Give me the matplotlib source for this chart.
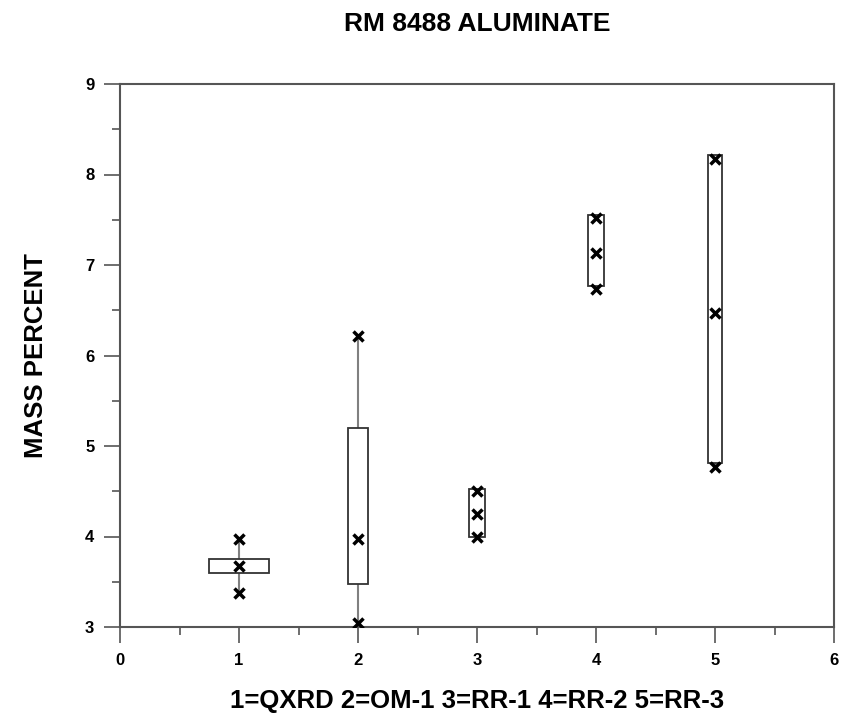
import matplotlib
matplotlib.use("Agg")
import matplotlib.pyplot as plt

plt.rcParams['font.family'] = ['Liberation Sans', 'DejaVu Sans']
plt.rcParams['font.weight'] = 'bold'

# box statistics per method
groups = [1, 2, 3, 4, 5]
q1 = [3.60, 3.47, 4.00, 6.77, 4.81]
q3 = [3.75, 5.20, 4.53, 7.55, 8.21]
lo = [3.38, 3.04, 3.99, 6.74, 4.76]
hi = [3.97, 6.22, 4.50, 7.52, 8.17]
box_w = [0.50, 0.17, 0.13, 0.13, 0.12]

# individual values shown with x
pt_x = [1, 1, 1, 2, 2, 2, 3, 3, 3, 4, 4, 4, 5, 5, 5]
pt_y = [3.97, 3.67, 3.38, 6.22, 3.97, 3.04, 4.50, 4.25, 3.99,
        7.52, 7.13, 6.74, 8.17, 6.47, 4.77]

fig = plt.figure(figsize=(8.42, 7.24), dpi=100)
ax = fig.add_axes([120/842, 97/724, 714/842, 543/724])

# whiskers
ax.vlines(groups, lo, q1, color='#808080', lw=1.5, zorder=1)
ax.vlines(groups, q3, hi, color='#808080', lw=1.5, zorder=1)
# boxes
ax.bar(groups, [b - a for a, b in zip(q1, q3)], bottom=q1, width=box_w,
       color='white', edgecolor='#333333', linewidth=1.3, zorder=2)
ax.plot(pt_x, pt_y, ls='none', marker='x', ms=6.5, mew=2.5, color='black', zorder=3)

ax.set_xlim(0, 6)
ax.set_ylim(3, 9)
ax.set_xticks(range(0, 7))
ax.set_xticks([0.5, 1.5, 2.5, 3.5, 4.5, 5.5], minor=True)
ax.set_yticks(range(3, 10))
ax.set_yticks([3.5, 4.5, 5.5, 6.5, 7.5, 8.5], minor=True)
ax.tick_params(which='major', direction='out', length=11.5, width=1.2, color='#555555',
               labelsize=12, pad=7)
ax.tick_params(which='minor', direction='out', length=6, width=1.2, color='#555555')
for s in ax.spines.values():
    s.set_color('#555555')
    s.set_linewidth(1.5)

ax.set_title('RM 8488 ALUMINATE', fontsize=19, fontweight='bold', pad=38)
ax.set_xlabel('1=QXRD 2=OM-1 3=RR-1 4=RR-2 5=RR-3', fontsize=18.5, fontweight='bold', labelpad=15)
ax.set_ylabel('MASS PERCENT', fontsize=18.5, fontweight='bold', labelpad=27)

fig.savefig('out.png', dpi=100)
